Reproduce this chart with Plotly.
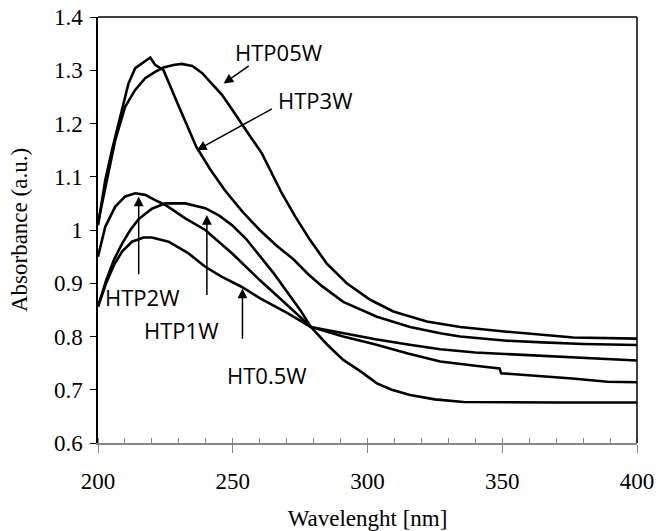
import plotly.graph_objects as go

# ---- data ----
htp05w_x = [200, 202.7, 206.4, 210.1, 213.8, 217.5, 221.2, 224.3, 228, 231, 235, 238.6, 242, 246, 249.5,
            253.4, 257, 260.8, 264.5, 268.2, 273.2, 278.7, 284.9, 292.3, 301, 309.6, 322, 334.4, 351.7, 376.4, 400]
htp05w_y = [1.013, 1.08, 1.169, 1.232, 1.263, 1.285, 1.297, 1.305, 1.31, 1.312, 1.308, 1.295, 1.276, 1.254, 1.228,
            1.2, 1.172, 1.144, 1.107, 1.069, 1.025, 0.981, 0.937, 0.90, 0.869, 0.847, 0.828, 0.818, 0.809, 0.798, 0.796]

htp3w_x = [200, 202.7, 205.2, 208.9, 211.3, 213.8, 216.9, 219.4, 221.2, 224.3, 230, 236.5, 241.5, 247, 253.5,
           260, 266.4, 272.5, 278, 283, 291, 303.5, 315.8, 327, 334.4, 351.7, 365, 380, 400]
htp3w_y = [1.009, 1.094, 1.15, 1.225, 1.275, 1.304, 1.316, 1.324, 1.31, 1.30, 1.232, 1.156, 1.115, 1.075, 1.035,
           1.0, 0.97, 0.945, 0.917, 0.895, 0.865, 0.837, 0.818, 0.806, 0.80, 0.792, 0.789, 0.786, 0.784]

htp2w_x = [200, 202.7, 206.4, 210.1, 213.8, 217.5, 221.2, 225, 232.4, 239.8, 250, 260, 270, 279, 291, 303,
           315, 327, 340, 349, 349.6, 364, 376, 389, 400]
htp2w_y = [0.95, 1.006, 1.044, 1.063, 1.069, 1.066, 1.056, 1.047, 1.022, 1.0, 0.955, 0.906, 0.86, 0.818, 0.80, 0.785,
           0.768, 0.753, 0.745, 0.740, 0.731, 0.726, 0.721, 0.715, 0.714]

htp1w_x = [200, 203, 206, 209, 212, 215, 220, 225, 232.4, 239.8, 245, 250, 255, 260, 265, 270, 275, 279, 285,
           291, 297.3, 303.5, 309, 315.8, 325, 335.6, 350, 370, 400]
htp1w_y = [0.856, 0.905, 0.945, 0.975, 1.0, 1.02, 1.04, 1.05, 1.05, 1.041, 1.027, 1.008, 0.983, 0.952, 0.92, 0.885,
           0.85, 0.818, 0.785, 0.756, 0.735, 0.712, 0.70, 0.69, 0.682, 0.677, 0.676, 0.676, 0.676]

ht05w_x = [200, 203, 206, 209, 212.6, 216.9, 220, 226.2, 233.6, 239.8, 246, 253.4, 260, 270, 279, 291, 303, 315,
           327, 340, 351.7, 376.4, 400]
ht05w_y = [0.856, 0.9, 0.935, 0.96, 0.978, 0.986, 0.986, 0.978, 0.956, 0.931, 0.912, 0.893, 0.872, 0.845, 0.818,
           0.806, 0.795, 0.785, 0.776, 0.770, 0.767, 0.761, 0.755]

series = [("HTP05W", htp05w_x, htp05w_y), ("HTP3W", htp3w_x, htp3w_y), ("HTP2W", htp2w_x, htp2w_y),
          ("HTP1W", htp1w_x, htp1w_y), ("HT0.5W", ht05w_x, ht05w_y)]

# labels: name, text position, arrow tail, arrow tip
label_names = ["HTP05W", "HTP3W", "HTP2W", "HTP1W", "HT0.5W"]
label_x = [266.9, 280.6, 216.4, 230.7, 262.7]
label_y = [1.334, 1.244, 0.875, 0.812, 0.728]
arrow_tail_x = [256.5, 265.1, 215.1, 240.4, 253.6]
arrow_tail_y = [1.31, 1.229, 0.914, 0.875, 0.793]
arrow_tip_x = [246.6, 236.7, 215.1, 240.4, 253.6]
arrow_tip_y = [1.275, 1.150, 1.063, 1.028, 0.890]

y_ticks = [0.6, 0.7, 0.8, 0.9, 1.0, 1.1, 1.2, 1.3, 1.4]
y_ticktext = ["0.6", "0.7", "0.8", "0.9", "1", "1.1", "1.2", "1.3", "1.4"]
x_ticks = [200, 250, 300, 350, 400]

fig = go.Figure()
for name, xs, ys in series:
    fig.add_trace(go.Scatter(x=xs, y=ys, mode="lines", name=name,
                             line=dict(color="black", width=2.6), showlegend=False))

for i, t in enumerate(label_names):
    fig.add_annotation(x=label_x[i], y=label_y[i], text=t, showarrow=False,
                       font=dict(family="Open Sans", size=22, color="black"))
    fig.add_annotation(x=arrow_tip_x[i], y=arrow_tip_y[i], ax=arrow_tail_x[i], ay=arrow_tail_y[i],
                       axref="x", ayref="y", xref="x", yref="y", text="", showarrow=True,
                       arrowhead=2, arrowsize=1.3, arrowwidth=1.5, arrowcolor="black")

# frame top / right
fig.add_shape(type="line", xref="paper", yref="paper", x0=0, x1=1, y0=1, y1=1,
              line=dict(color="black", width=1.5))
fig.add_shape(type="line", xref="paper", yref="paper", x0=1, x1=1, y0=0, y1=1,
              line=dict(color="black", width=1.5))

serif = "Liberation Serif"
fig.update_layout(
    width=658, height=531,
    margin=dict(l=98, r=21, t=17, b=88, autoexpand=False),
    paper_bgcolor="white", plot_bgcolor="white",
    xaxis=dict(range=[200, 400], tickvals=x_ticks, ticks="outside", ticklen=8, tickcolor="#868686",
               tickwidth=1.3, showline=True, linecolor="#868686", linewidth=1.5, showgrid=False,
               zeroline=False, ticklabelstandoff=9, automargin=False,
               minor=dict(dtick=10, tick0=200, ticks="inside", ticklen=5, tickcolor="#868686", tickwidth=1.2),
               tickfont=dict(family=serif, size=23, color="black"),
               title=dict(text="Wavelenght [nm]", font=dict(family=serif, size=23, color="black"), standoff=30)),
    yaxis=dict(range=[0.6, 1.4], tickvals=y_ticks, ticktext=y_ticktext, ticks="outside", ticklen=6,
               tickcolor="black", tickwidth=1.3, showline=True, linecolor="black", linewidth=1.5,
               showgrid=False, zeroline=False, ticklabelstandoff=3, automargin=False,
               tickfont=dict(family=serif, size=23, color="black"),
               title=dict(text="Absorbance (a.u.)", font=dict(family=serif, size=23, color="black"), standoff=20)),
)

fig.write_html("out.html", config={"displayModeBar": False},
               post_script="document.body.style.margin='0px';")
